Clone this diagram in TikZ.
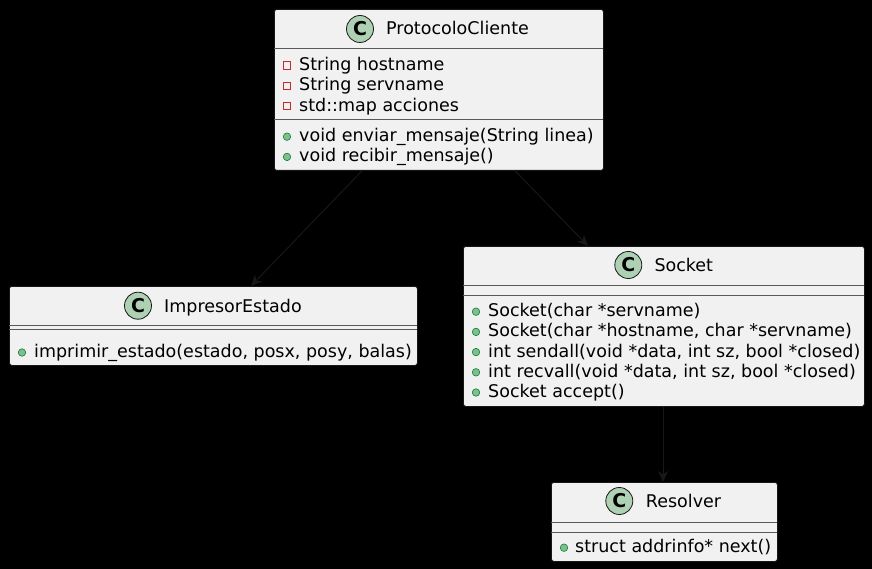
\documentclass[tikz,border=0pt]{standalone}
\usepackage{fontspec}
\setmainfont{DejaVu Sans}
\usetikzlibrary{arrows.meta}
\definecolor{boxfill}{HTML}{F1F1F1}
\definecolor{ink}{HTML}{181818}
\definecolor{divgray}{HTML}{5A5A5A}
\definecolor{spotfill}{HTML}{ADD1B2}
\definecolor{privred}{HTML}{C82930}
\definecolor{pubfill}{HTML}{84BE84}
\definecolor{publine}{HTML}{038048}
\begin{document}
\begin{tikzpicture}[x=1pt,y=-1pt,
 classbox/.style={draw=ink,fill=boxfill,line width=0.8pt,rounded corners=2.5pt,anchor=north west,inner sep=0pt},
 spot/.style={circle,draw=ink,fill=spotfill,line width=0.8pt,minimum size=27pt,inner sep=0pt,font=\fontsize{19}{19}\selectfont\bfseries},
 txt/.style={anchor=base west,inner sep=0pt,font=\fontsize{17.5}{20}\selectfont,text=black},
 priv/.style={draw=privred,fill=boxfill,line width=0.8pt,minimum size=7.5pt,inner sep=0pt},
 pub/.style={circle,draw=publine,fill=pubfill,line width=0.6pt,minimum size=7.5pt,inner sep=0pt},
 rel/.style={draw=ink,line width=1pt,-{Stealth[length=11pt,width=10pt,inset=3.5pt]}},
 divider/.style={draw=divgray,line width=0.9pt}]
\fill[black] (0,0) rectangle (872,569);
\useasboundingbox (0,0) rectangle (872,569);

% ProtocoloCliente
\node[classbox,minimum width=329pt,minimum height=161pt] (pc) at (274,9) {};
\node[spot] (pcspot) at (360,29) {C};
\node[txt] (pctitle) at (386,35) {ProtocoloCliente};
\draw[divider] (274,48.3) -- (603,48.3);
\draw[divider] (274,119.3) -- (603,119.3);
\node[priv] (pca1i) at (287,65.5) {};
\node[txt] (pca1) at (299,70.7) {String hostname};
\node[priv] (pca2i) at (287,85.7) {};
\node[txt] (pca2) at (299,90.9) {String servname};
\node[priv] (pca3i) at (287,105.9) {};
\node[txt] (pca3) at (299,111.1) {std::map acciones};
\node[pub] (pcm1i) at (287,136.7) {};
\node[txt] (pcm1) at (299,141.7) {void enviar\_mensaje(String linea)};
\node[pub] (pcm2i) at (287,156.9) {};
\node[txt] (pcm2) at (299,161.9) {void recibir\_mensaje()};

% ImpresorEstado
\node[classbox,minimum width=408pt,minimum height=79pt] (ie) at (9,286) {};
\node[spot] (iespot) at (138,305.7) {C};
\node[txt] (ietitle) at (164,312.3) {ImpresorEstado};
\draw[divider] (9,325) -- (417,325);
\draw[divider] (9,329.3) -- (417,329.3);
\node[pub] (iem1i) at (22,352.5) {};
\node[txt] (iem1) at (34,357.7) {imprimir\_estado(estado, posx, posy, balas)};

% Socket
\node[classbox,minimum width=401pt,minimum height=160pt] (sk) at (463,246) {};
\node[spot] (skspot) at (628.3,265) {C};
\node[txt] (sktitle) at (654.3,271.7) {Socket};
\draw[divider] (463,285) -- (864,285);
\draw[divider] (463,295) -- (864,295);
\node[pub] (skm1i) at (476,311.7) {};
\node[txt] (skm1) at (488,316.7) {Socket(char *servname)};
\node[pub] (skm2i) at (476,331.9) {};
\node[txt] (skm2) at (488,336.9) {Socket(char *hostname, char *servname)};
\node[pub] (skm3i) at (476,352.1) {};
\node[txt] (skm3) at (488,357.1) {int sendall(void *data, int sz, bool *closed)};
\node[pub] (skm4i) at (476,372.3) {};
\node[txt] (skm4) at (488,377.3) {int recvall(void *data, int sz, bool *closed)};
\node[pub] (skm5i) at (476,392.5) {};
\node[txt] (skm5) at (488,397.5) {Socket accept()};

% Resolver
\node[classbox,minimum width=226pt,minimum height=79pt] (rs) at (551,482) {};
\node[spot] (rsspot) at (619.3,501) {C};
\node[txt] (rstitle) at (645.7,507.7) {Resolver};
\draw[divider] (551,522) -- (777,522);
\draw[divider] (551,532) -- (777,532);
\node[pub] (rsm1i) at (564,547.7) {};
\node[txt] (rsm1) at (575,552.7) {struct addrinfo* next()};

% connectors
\coordinate (pcL) at ([xshift=88pt]pc.south west);
\coordinate (pcR) at ([xshift=241pt]pc.south west);
\coordinate (ieT) at ([xshift=242pt]ie.north west);
\coordinate (skT) at ([xshift=125pt]sk.north west);
\coordinate (skB) at ([xshift=200pt]sk.south west);
\coordinate (rsT) at ([xshift=112pt]rs.north west);
\draw[rel] (pcL) -- (ieT);
\draw[rel] (pcR) -- (skT);
\draw[rel] (skB) -- (rsT);
\end{tikzpicture}
\end{document}
